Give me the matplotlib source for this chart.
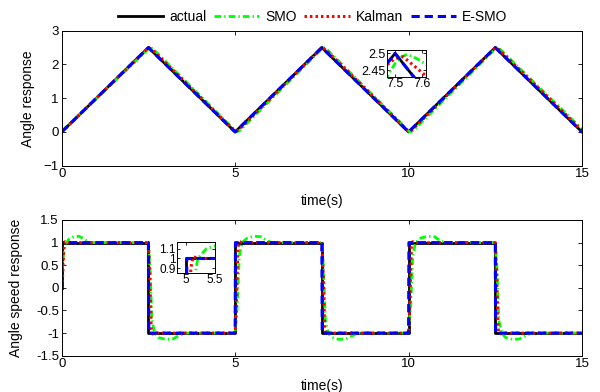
# Angle / angle speed response: actual vs SMO, Kalman and E-SMO observers
import numpy as np
import matplotlib.pyplot as plt

plt.rcParams['font.family'] = ['Liberation Sans', 'DejaVu Sans']

series_names = ['actual', 'SMO', 'Kalman', 'E-SMO']

# ---- angle response ----
ang_t_actual = [0, 2.5, 5, 7.5, 10, 12.5, 15]
ang_y_actual = [0, 2.5, 0, 2.5, 0, 2.5, 0]

ang_t_smo = [0, 2.47, 2.5, 2.525, 2.545, 2.58, 2.62, 2.7,
             4.97, 5.0, 5.025, 5.045, 5.08, 5.12, 5.2,
             7.47, 7.5, 7.525, 7.545, 7.58, 7.62, 7.7,
             9.97, 10.0, 10.025, 10.045, 10.08, 10.12, 10.2,
             12.47, 12.5, 12.525, 12.545, 12.58, 12.62, 12.7, 15]
ang_y_smo = [0.02, 2.43, 2.47, 2.49, 2.497, 2.485, 2.465, 2.39,
             0.07, 0.03, 0.01, 0.003, 0.015, 0.035, 0.11,
             2.43, 2.47, 2.49, 2.497, 2.485, 2.465, 2.39,
             0.07, 0.03, 0.01, 0.003, 0.015, 0.035, 0.11,
             2.43, 2.47, 2.49, 2.497, 2.485, 2.465, 2.39, 0.08]

ang_t_kal = [0, 2.46, 2.5, 2.53, 2.56, 2.62,
             4.96, 5.0, 5.03, 5.06, 5.12,
             7.46, 7.5, 7.53, 7.56, 7.62,
             9.96, 10.0, 10.03, 10.06, 10.12,
             12.46, 12.5, 12.53, 12.56, 12.62, 15]
ang_y_kal = [0, 2.46, 2.485, 2.49, 2.47, 2.43,
             0.06, 0.035, 0.03, 0.04, 0.08,
             2.46, 2.485, 2.49, 2.47, 2.43,
             0.06, 0.035, 0.03, 0.04, 0.08,
             2.46, 2.485, 2.49, 2.47, 2.43, 0.05]

ang_t_esmo = [0, 2.5, 5, 7.5, 10, 12.5, 15]
ang_y_esmo = [0, 2.5, 0, 2.5, 0, 2.5, 0]

# ---- angle speed response ----
spd_t_actual = [0, 0, 2.5, 2.5, 5, 5, 7.5, 7.5, 10, 10, 12.5, 12.5, 15]
spd_y_actual = [0, 1, 1, -1, -1, 1, 1, -1, -1, 1, 1, -1, -1]

spd_t_smo = [0, 0.05, 0.1, 0.2, 0.35, 0.5, 0.65, 0.8,
             2.5, 2.55, 2.6, 2.68, 2.8, 3.0, 3.2, 3.4, 3.55,
             5.0, 5.06, 5.12, 5.2, 5.35, 5.55, 5.75, 5.9, 6.05,
             7.5, 7.55, 7.6, 7.68, 7.8, 8.0, 8.2, 8.4, 8.55,
             10.0, 10.06, 10.12, 10.2, 10.35, 10.55, 10.75, 10.9, 11.05,
             12.5, 12.55, 12.6, 12.68, 12.8, 13.0, 13.2, 13.4, 13.55, 15]
spd_y_smo = [0.35, 0.7, 0.95, 1.07, 1.13, 1.14, 1.08, 1.0,
             1.0, 0.4, -0.7, -1.0, -1.1, -1.14, -1.13, -1.05, -1.0,
             -1.0, -0.4, 0.7, 1.0, 1.1, 1.14, 1.13, 1.05, 1.0,
             1.0, 0.4, -0.7, -1.0, -1.1, -1.14, -1.13, -1.05, -1.0,
             -1.0, -0.4, 0.7, 1.0, 1.1, 1.14, 1.13, 1.05, 1.0,
             1.0, 0.4, -0.7, -1.0, -1.1, -1.14, -1.13, -1.05, -1.0, -1.0]

spd_t_kal = [0, 0.03, 0.06, 0.1, 0.2,
             2.5, 2.54, 2.58, 2.62, 2.7,
             5.0, 5.04, 5.08, 5.12, 5.2,
             7.5, 7.54, 7.58, 7.62, 7.7,
             10.0, 10.04, 10.08, 10.12, 10.2,
             12.5, 12.54, 12.58, 12.62, 12.7, 15]
spd_y_kal = [0, 0.3, 0.9, 1.02, 1.0,
             1.0, 0.3, -0.9, -1.02, -1.0,
             -1.0, -0.3, 0.9, 1.02, 1.0,
             1.0, 0.3, -0.9, -1.02, -1.0,
             -1.0, -0.3, 0.9, 1.02, 1.0,
             1.0, 0.3, -0.9, -1.02, -1.0, -1.0]

spd_t_esmo = [0, 0, 2.5, 2.51, 5, 5.01, 7.5, 7.51, 10, 10.01, 12.5, 12.51, 15]
spd_y_esmo = [0, 1, 1, -1, -1, 1, 1, -1, -1, 1, 1, -1, -1]

styles = [dict(color='k', ls='-', lw=2.0),
          dict(color='#00ff00', ls=(0, (2.4, 1.1, 0.5, 1.1)), lw=2.0),
          dict(color='r', ls=(0, (0.8, 1.0)), lw=2.2),
          dict(color='b', ls=(0, (2.7, 1.6)), lw=2.2)]

W, H = 600, 392
fig = plt.figure(figsize=(W / 100, H / 100), dpi=100)


def px_rect(x0, y0, x1, y1):
    # pixel box (top-left origin) -> figure fraction rect
    return [x0 / W, 1 - y1 / H, (x1 - x0) / W, (y1 - y0) / H]


def style_axes(ax, fs=9.5, length=3):
    ax.tick_params(direction='in', top=True, right=True, length=length,
                   width=0.6, labelsize=fs, pad=2)
    for sp in ax.spines.values():
        sp.set_linewidth(0.7)


def draw(ax, data):
    lines = []
    for (t, y), st in zip(data, styles):
        ln, = ax.plot(t, y, **st)
        lines.append(ln)
    return lines


ang_data = [(ang_t_actual, ang_y_actual), (ang_t_smo, ang_y_smo),
            (ang_t_kal, ang_y_kal), (ang_t_esmo, ang_y_esmo)]
spd_data = [(spd_t_actual, spd_y_actual), (spd_t_smo, spd_y_smo),
            (spd_t_kal, spd_y_kal), (spd_t_esmo, spd_y_esmo)]

# top panel
ax1 = fig.add_axes(px_rect(61.7, 30.7, 582, 165.7))
lines = draw(ax1, ang_data)
ax1.set_xlim(0, 15)
ax1.set_ylim(-1, 3)
ax1.set_xticks([0, 5, 10, 15])
ax1.set_yticks([-1, 0, 1, 2, 3])
ax1.set_xlabel('time(s)', fontsize=10)
ax1.set_ylabel('Angle response', fontsize=10)
ax1.xaxis.set_label_coords(0.5, -0.21)
ax1.yaxis.set_label_coords(-0.051, 0.5)
style_axes(ax1)

# bottom panel
ax2 = fig.add_axes(px_rect(61.7, 220, 582, 355.7))
draw(ax2, spd_data)
ax2.set_xlim(0, 15)
ax2.set_ylim(-1.5, 1.5)
ax2.set_xticks([0, 5, 10, 15])
ax2.set_yticks(np.arange(-1.5, 1.51, 0.5))
ax2.set_yticklabels(['-1.5', '-1', '-0.5', '0', '0.5', '1', '1.5'])
ax2.set_xlabel('time(s)', fontsize=10)
ax2.set_ylabel('Angle speed response', fontsize=10)
ax2.xaxis.set_label_coords(0.5, -0.17)
ax2.yaxis.set_label_coords(-0.074, 0.5)
style_axes(ax2)

# inset zoom on peak at 7.5 s
ins1 = fig.add_axes(px_rect(387, 50, 426, 77))
draw(ins1, ang_data)
ins1.set_xlim(7.47, 7.615)
ins1.set_ylim(2.43, 2.51)
ins1.set_xticks([7.5, 7.6])
ins1.set_xticklabels(['7.5', '7.6'])
ins1.set_yticks([2.45, 2.5])
ins1.set_yticklabels(['2.45', '2.5'])
style_axes(ins1, fs=9, length=2)
ins1.tick_params(pad=1)

# inset zoom on rising edge at 5 s
ins2 = fig.add_axes(px_rect(177, 242, 215, 273))
draw(ins2, spd_data)
ins2.set_xlim(4.84, 5.5)
ins2.set_ylim(0.85, 1.17)
ins2.set_xticks([5, 5.5])
ins2.set_xticklabels(['5', '5.5'])
ins2.set_yticks([0.9, 1.0, 1.1])
ins2.set_yticklabels(['0.9', '1', '1.1'])
style_axes(ins2, fs=8.5, length=2)
ins2.tick_params(pad=1)

fig.legend(lines, series_names, loc='center', bbox_to_anchor=(312.5 / W, 1 - 17 / H),
           ncol=4, frameon=False, fontsize=10, handlelength=3.25,
           handletextpad=0.45, columnspacing=0.55, borderaxespad=0)

fig.savefig('out.png', dpi=100)
